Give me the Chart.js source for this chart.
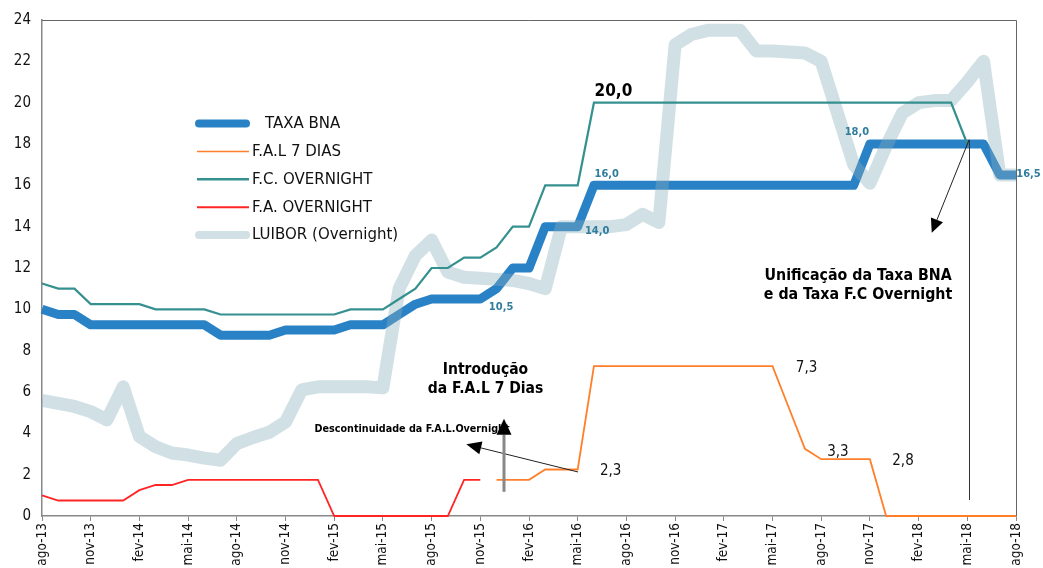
<!DOCTYPE html>
<html><head><meta charset="utf-8">
<script src="https://cdn.jsdelivr.net/npm/chart.js@4.4.0/dist/chart.umd.min.js"></script>
<style>html,body{margin:0;padding:0;background:#fff;} #wrap{width:1043px;height:568px;position:relative;}</style>
</head><body><div id="wrap"><canvas id="c" width="1043" height="568"></canvas></div>
<script>
// ---- categories (monthly, ago-13 .. ago-18)
const months = ['ago-13','set-13','out-13','nov-13','dez-13','jan-14','fev-14','mar-14','abr-14','mai-14','jun-14','jul-14',
 'ago-14','set-14','out-14','nov-14','dez-14','jan-15','fev-15','mar-15','abr-15','mai-15','jun-15','jul-15',
 'ago-15','set-15','out-15','nov-15','dez-15','jan-16','fev-16','mar-16','abr-16','mai-16','jun-16','jul-16',
 'ago-16','set-16','out-16','nov-16','dez-16','jan-17','fev-17','mar-17','abr-17','mai-17','jun-17','jul-17',
 'ago-17','set-17','out-17','nov-17','dez-17','jan-18','fev-18','mar-18','abr-18','mai-18','jun-18','jul-18','ago-18'];

// ---- series
const taxaBNA = [10.0,9.75,9.75,9.25,9.25,9.25,9.25,9.25,9.25,9.25,9.25,8.75,8.75,8.75,8.75,9.0,9.0,9.0,9.0,9.25,9.25,9.25,
 9.75,10.25,10.5,10.5,10.5,10.5,11,12,12,14,14,14,16,16,16,16,16,16,16,16,16,16,16,16,16,16,16,16,16,
 18,18,18,18,18,18,18,18,16.5,16.5];
const fal7Dias = [null,null,null,null,null,null,null,null,null,null,null,null,null,null,null,null,null,null,null,null,null,null,null,null,null,null,null,null,
 1.75,1.75,1.75,2.25,2.25,2.25,7.25,7.25,7.25,7.25,7.25,7.25,7.25,7.25,7.25,7.25,7.25,7.25,5.25,3.25,2.75,2.75,2.75,2.75,
 0,0,0,0,0,0,0,0,0];
const fcOvernight = [11.25,11.0,11.0,10.25,10.25,10.25,10.25,10.0,10.0,10.0,10.0,9.75,9.75,9.75,9.75,9.75,9.75,9.75,9.75,
 10.0,10.0,10.0,10.5,11.0,12.0,12.0,12.5,12.5,13.0,14.0,14.0,16.0,16.0,16.0,
 20,20,20,20,20,20,20,20,20,20,20,20,20,20,20,20,20,20,20,20,20,20,20,18.0,null,null,null];
const faOvernight = [1.0,0.75,0.75,0.75,0.75,0.75,1.25,1.5,1.5,1.75,1.75,1.75,1.75,1.75,1.75,1.75,1.75,1.75,
 0,0,0,0,0,0,0,0,1.75,1.75,
 null,null,null,null,null,null,null,null,null,null,null,null,null,null,null,null,null,null,null,null,null,null,null,null,null,null,null,null,null,null,null];
const luibor = [5.6,5.45,5.3,5.05,4.65,6.25,3.85,3.35,3.05,2.95,2.8,2.7,3.5,3.8,4.05,4.55,6.1,6.25,6.25,6.25,6.25,6.2,
 11.0,12.6,13.35,11.8,11.55,11.5,11.45,11.4,11.25,11.0,14.0,14.0,14.0,14.0,14.1,14.6,14.2,
 22.8,23.3,23.5,23.5,23.5,22.5,22.5,22.45,22.4,22.0,19.5,17.0,16.1,17.9,19.5,20.0,20.1,20.1,21.0,22.0,16.5,16.5];

// ---- y ticks
const yMin = 0, yMax = 24, yStep = 2;

// ---- text annotations
const valueLabels = ['20,0','16,0','14,0','10,5','18,0','16,5'];
const falLabels = ['7,3','3,3','2,8','2,3'];
const introText = ['Introdução','da F.A.L 7 Dias'];
const descText = 'Descontinuidade da F.A.L.Overnight';
const unifText = ['Unificação da Taxa BNA','e da Taxa F.C Overnight'];

const FONT = "'DejaVu Sans Condensed','DejaVu Sans',sans-serif";
const FONT_W = "'DejaVu Sans',sans-serif";
Chart.defaults.font.family = FONT;

const COLORS = {bna:'#2A82C6', fal:'#FF7F2A', fc:'#36908F', fa:'#FF2525', lui:'rgba(133,174,186,0.38)'};

function arrow(ctx, x1, y1, x2, y2, lw, color, hl, hw, hc){
  const a = Math.atan2(y2-y1, x2-x1);
  const bx = x2 - Math.cos(a)*hl, by = y2 - Math.sin(a)*hl;
  ctx.save();
  ctx.strokeStyle = color; ctx.lineWidth = lw;
  ctx.beginPath(); ctx.moveTo(x1,y1); ctx.lineTo(bx,by); ctx.stroke();
  ctx.fillStyle = hc;
  ctx.beginPath();
  ctx.moveTo(x2,y2);
  ctx.lineTo(bx + Math.sin(a)*hw/2, by - Math.cos(a)*hw/2);
  ctx.lineTo(bx - Math.sin(a)*hw/2, by + Math.cos(a)*hw/2);
  ctx.closePath(); ctx.fill();
  ctx.restore();
}

const decor = {
  id:'decor',
  afterDatasetsDraw(chart){
    const ctx = chart.ctx, xs = chart.scales.x, ys = chart.scales.y, ca = chart.chartArea;
    const X = v => xs.getPixelForValue(v), Y = v => ys.getPixelForValue(v);
    ctx.save();
    // frame top/right
    ctx.strokeStyle = '#666'; ctx.lineWidth = 1;
    ctx.beginPath(); ctx.moveTo(ca.left, ca.top+0.5); ctx.lineTo(ca.right+0.5, ca.top+0.5); ctx.lineTo(ca.right+0.5, ca.bottom); ctx.stroke();

    // legend
    const leg = [
      {t:'TAXA BNA', c:COLORS.bna, w:8, cap:'round', tx:265},
      {t:'F.A.L 7 DIAS', c:COLORS.fal, w:1.5, cap:'butt', tx:252},
      {t:'F.C. OVERNIGHT', c:COLORS.fc, w:2.5, cap:'butt', tx:252},
      {t:'F.A. OVERNIGHT', c:COLORS.fa, w:2, cap:'butt', tx:252},
      {t:'LUIBOR (Overnight)', c:COLORS.lui, w:8, cap:'round', tx:252}
    ];
    ctx.font = '15px ' + FONT_W; ctx.textBaseline = 'middle'; ctx.textAlign = 'left';
    leg.forEach((it,k)=>{
      const y = 123.5 + k*27.9;
      ctx.strokeStyle = it.c; ctx.lineWidth = it.w; ctx.lineCap = it.cap;
      ctx.beginPath(); ctx.moveTo(it.cap==='round'?199:197, y); ctx.lineTo(it.cap==='round'?246:249, y); ctx.stroke();
      ctx.fillStyle = '#111'; ctx.fillText(it.t, it.tx, y+0.5);
    });
    ctx.lineCap = 'butt';

    // value labels
    ctx.textAlign = 'center'; ctx.textBaseline = 'middle';
    ctx.font = 'bold 17px ' + FONT; ctx.fillStyle = '#000';
    ctx.fillText(valueLabels[0], X(35.2), Y(20.53));
    ctx.font = 'bold 11px ' + FONT; ctx.fillStyle = '#2F7D9C';
    const vpos = [[34.79,16.53],[34.2,13.78],[28.28,10.12],[50.2,18.55],[60.77,16.53]];
    vpos.forEach((p,k)=> ctx.fillText(valueLabels[k+1], X(p[0]), Y(p[1])));
    ctx.font = '15px ' + FONT; ctx.fillStyle = '#111';
    const fpos = [[47.1,7.18],[49.03,3.08],[53.04,2.65],[35.03,2.17]];
    fpos.forEach((p,k)=> ctx.fillText(falLabels[k], X(p[0]), Y(p[1])));

    // Introdução
    ctx.font = 'bold 15.5px ' + FONT; ctx.fillStyle = '#000';
    ctx.fillText(introText[0], X(27.32), Y(7.08));
    ctx.fillText(introText[1], X(27.32), Y(6.17));
    // Unificação
    ctx.font = 'bold 15.8px ' + FONT;
    ctx.fillText(unifText[0], X(50.27), Y(11.61));
    ctx.fillText(unifText[1], X(50.27), Y(10.70));
    // Descontinuidade
    ctx.font = 'bold 10.7px ' + FONT; ctx.textAlign = 'left';
    ctx.fillText(descText, X(16.79), Y(4.18));

    // arrows
    arrow(ctx, X(33.02), Y(2.13), X(26.14), Y(3.47), 1, '#222', 15, 13, '#000');
    arrow(ctx, X(28.46), Y(1.17), X(28.46), Y(4.71), 3, '#888', 16, 15, '#000');
    arrow(ctx, X(57.11), Y(18.2), X(54.81), Y(13.70), 1, '#222', 14, 13, '#000');
    ctx.strokeStyle = '#333'; ctx.lineWidth = 1;
    ctx.beginPath(); ctx.moveTo(Math.round(X(57.11))+0.5, Y(18.2)); ctx.lineTo(Math.round(X(57.11))+0.5, Y(0.77)); ctx.stroke();
    ctx.restore();
  }
};

new Chart(document.getElementById('c'), {
  type:'line',
  data:{
    labels: months,
    datasets:[
      {label:'TAXA BNA', data:taxaBNA, borderColor:COLORS.bna, borderWidth:9, order:4, borderJoinStyle:'round', clip:false},
      {label:'F.A.L 7 DIAS', data:fal7Dias, borderColor:COLORS.fal, borderWidth:1.8, order:1, clip:false},
      {label:'F.C. OVERNIGHT', data:fcOvernight, borderColor:COLORS.fc, borderWidth:2.2, order:0, clip:false},
      {label:'F.A. OVERNIGHT', data:faOvernight, borderColor:COLORS.fa, borderWidth:1.8, order:2, clip:false},
      {label:'LUIBOR (Overnight)', data:luibor, borderColor:COLORS.lui, borderWidth:13, order:3, borderJoinStyle:'round', clip:false}
    ]
  },
  options:{
    responsive:false, devicePixelRatio:1, animation:false,
    spanGaps:false,
    elements:{point:{radius:0, hoverRadius:0}, line:{tension:0, fill:false}},
    layout:{padding:{top:18, right:27, bottom:0, left:0}},
    plugins:{legend:{display:false}, tooltip:{enabled:false}},
    scales:{
      x:{
        type:'category', offset:false,
        grid:{drawOnChartArea:false, drawTicks:true, tickLength:5, lineWidth:1,
              color: c => (c.index % 3 === 0 ? '#888' : 'rgba(0,0,0,0)')},
        border:{display:true, color:'#888', width:1.5},
        ticks:{autoSkip:false, maxRotation:90, minRotation:90, padding:2, color:'#111', font:{size:13.5},
               callback:(v,i)=> (i % 3 === 0 ? months[i] : '')},
        afterFit: s => { s.height = 52; }
      },
      y:{
        min:yMin, max:yMax,
        grid:{drawOnChartArea:false, drawTicks:false},
        border:{display:true, color:'#888', width:1.5},
        ticks:{stepSize:yStep, padding:11, color:'#111', font:{size:15}},
        afterFit: s => { s.width = 42; }
      }
    }
  },
  plugins:[decor]
});
</script>
</body></html>
